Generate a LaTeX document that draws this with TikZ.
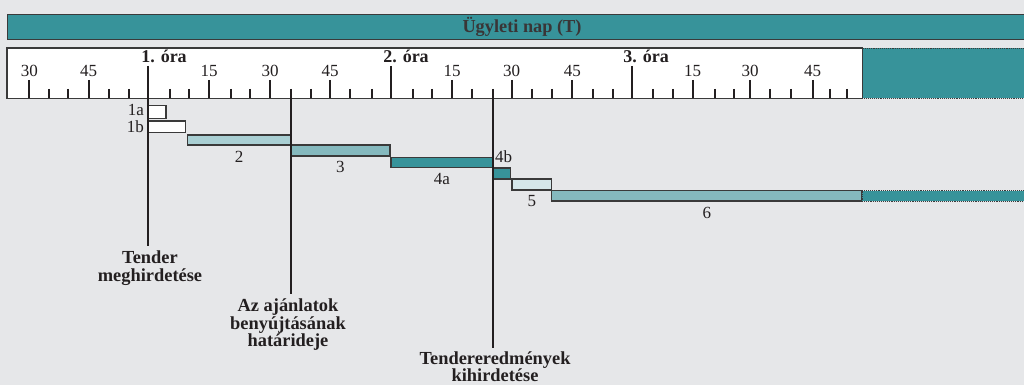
\documentclass[tikz,border=0pt]{standalone}
\usepackage{fontspec}
\setmainfont{Liberation Serif}
\usetikzlibrary{calc}
\definecolor{bg}{HTML}{E6E7E9}
\definecolor{tealD}{HTML}{37939A}
\definecolor{tealL}{HTML}{A9CFD3}
\definecolor{tealM}{HTML}{85B9BE}
\definecolor{tealP}{HTML}{D5E7EA}
\definecolor{ink}{HTML}{231F20}
\definecolor{edge}{HTML}{3A3A3A}
\begin{document}
\begin{tikzpicture}[x=1pt,y=-1pt,
  bar/.style={draw=edge, line width=1.1pt, inner sep=0pt, outer sep=0pt, anchor=north west},
  num/.style={font=\fontsize{17}{18}\selectfont, text=ink, inner sep=0pt},
  hour/.style={font=\bfseries\fontsize{18}{18}\selectfont, text=ink, inner sep=0pt},
  callout/.style={font=\bfseries\fontsize{18.4}{17.4}\selectfont, text=ink, align=center, inner sep=0pt, anchor=north},
  marker/.style={draw=ink, line width=2pt},
  tickmark/.style={draw=ink, line width=1.7pt}]
\useasboundingbox (0,0) rectangle (1024,385);
\clip (0,0) rectangle (1024,385);
\fill[bg] (0,0) rectangle (1024,385);

% top day bar
\node[draw=edge, fill=tealD, line width=1.2pt, minimum width=1040, minimum height=25, anchor=north west, inner sep=0pt] (daybar) at (7,14) {};
\node[font=\bfseries\fontsize{18.3}{18}\selectfont, text=ink!90, inner sep=0pt] (title) at (522,27) {Ügyleti nap (T)};

% ruler
\node[fill=white, minimum width=855, minimum height=50, anchor=north west, inner sep=0pt] (ruler) at (7,48) {};
\node[draw=edge, densely dotted, fill=tealD, line width=0.9pt, minimum width=180, minimum height=50, anchor=north west, inner sep=0pt] (rulerx) at (862,48) {};

% minor ticks
\foreach \x in {49.3,68.3,109,129,170,189,230.7,250,311,350,371.7,412.7,431.7,472.3,531.7,551.7,593.3,612.7,653.3,673.3,715,734,770,790.7,830,846.7}
  \draw[tickmark] (\x,89) -- (\x,98);
% major ticks with labels
\foreach \x/\m in {29.3/30,88.7/45,209/15,270/30,330/45,452/15,511.7/30,572.3/45,692.7/15,750/30,812.7/45}{
  \draw[tickmark] (\x,80) -- (\x,98);
  \node[num] at (\x,71) {\m};
}
% hour ticks with labels
\foreach \x in {391,631.7}
  \draw[tickmark] (\x,66) -- (\x,98);
\node[hour] (h1) at (164,56.5) {1. óra};
\node[hour] (h2) at (406,56.5) {2. óra};
\node[hour] (h3) at (646,56.5) {3. óra};

\draw[edge, line width=1.2pt] (ruler.north west) rectangle (ruler.south east);

% gantt bars
\node[bar, fill=white, minimum width=17.7, minimum height=12.6] (b1a) at (148.3,105.7) {};
\node[bar, fill=white, minimum width=37.4, minimum height=11.7] (b1b) at (148.3,121) {};
\node[bar, fill=tealL, minimum width=103.4, minimum height=10] (b2) at (187.3,135) {};
\node[bar, fill=tealM, minimum width=99.3, minimum height=11] (b3) at (290.7,145) {};
\node[bar, fill=tealD, minimum width=101.7, minimum height=10] (b4a) at (391,157.3) {};
\node[bar, fill=tealD, minimum width=18, minimum height=11] (b4b) at (492.7,168) {};
\node[bar, fill=tealP, minimum width=39.7, minimum height=11] (b5) at (512,179) {};
\node[bar, fill=tealM, minimum width=310.3, minimum height=10.3] (b6) at (551.7,190.7) {};
\node[bar, fill=tealD, densely dotted, line width=0.8pt, minimum width=180, minimum height=10.3] (b6x) at (862,190.7) {};

% bar labels
\node[num, anchor=east] (l1a) at (144,110) {1a};
\node[num, anchor=east] (l1b) at (144,127) {1b};
\node[num] (l2) at ([yshift=-11.7pt]b2.south) {2};
\node[num] (l3) at ([yshift=-10.7pt]b3.south) {3};
\node[num] (l4a) at ([yshift=-11.7pt]b4a.south) {4a};
\node[num, anchor=west] (l4b) at (495,157) {4b};
\node[num] (l5) at ([yshift=-11pt]b5.south) {5};
\node[num] (l6) at ([yshift=-11.7pt]b6.south) {6};

% event markers
\coordinate (t1) at (147.7,66);
\coordinate (e1) at (147.7,246);
\coordinate (t2) at (290.7,89);
\coordinate (e2) at (290.7,294);
\coordinate (t3) at (492.7,89);
\coordinate (e3) at (492.7,348);
\draw[marker] (t1) -- (e1);
\draw[marker] (t2) -- (e2);
\draw[marker] (t3) -- (e3);

\node[callout] (c1) at (150,250.7) {Tender\\meghirdetése};
\node[callout] (c2) at (288,298.7) {Az ajánlatok\\benyújtásának\\határideje};
\node[callout, font=\bfseries\fontsize{18.4}{16.8}\selectfont] (c3) at (495,351.5) {Tendereredmények\\kihirdetése};
\end{tikzpicture}
\end{document}
